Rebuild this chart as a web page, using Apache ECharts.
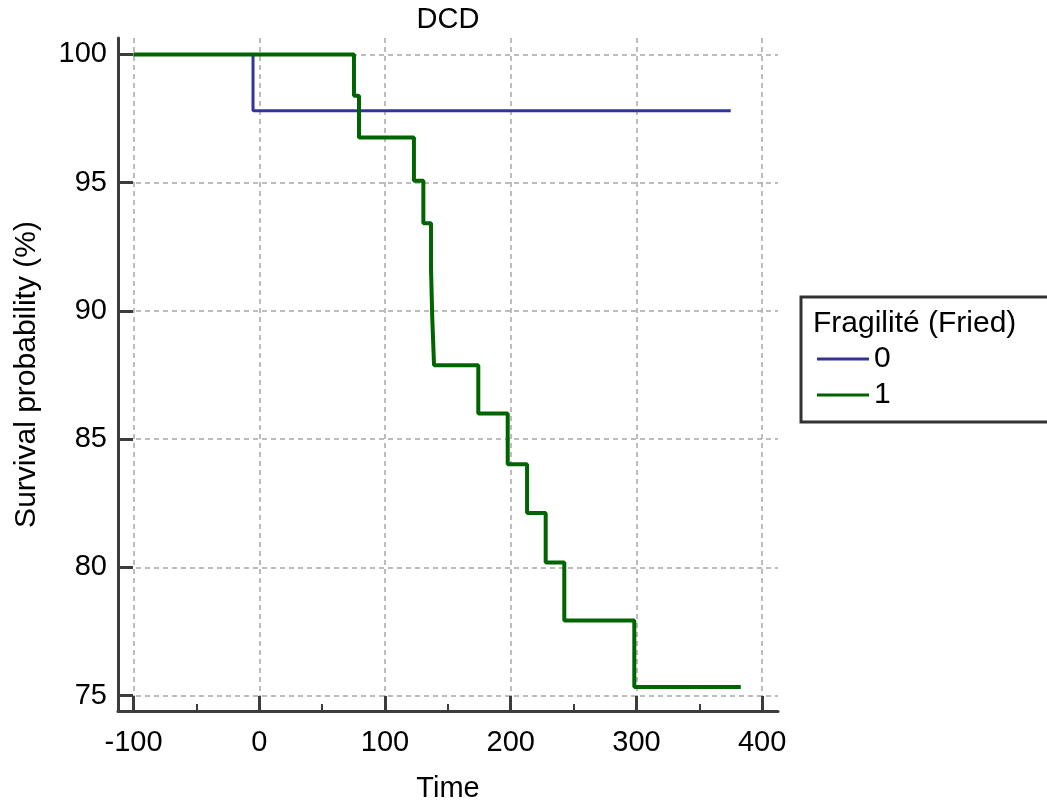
<!DOCTYPE html>
<html><head><meta charset="utf-8">
<script src="https://cdn.jsdelivr.net/npm/echarts@6/dist/echarts.min.js"></script>
<style>html,body{margin:0;padding:0;background:#fff}#c{width:1047px;height:800px}</style>
</head><body><div id="c"></div>
<script>
// ---- data ----
const chartTitle = 'DCD';
const legendTitle = 'Fragilité (Fried)';
const xName = 'Time';
const yName = 'Survival probability (%)';
const groupNames = ['0', '1'];
const groupColors = ['#333399', '#006400'];
const time0 = [-100, -5, 375];
const surv0 = [100, 97.8, 97.8];
const time1 = [-100, 75.3, 79.3, 123, 130.5, 136.6, 137.6, 139, 174.2, 197.6, 213, 227.8, 242.6, 298.3, 383];
const surv1 = [100, 98.39, 96.76, 95.07, 93.42, 91.63, 89.70, 87.88, 86.00, 84.02, 82.12, 80.19, 77.93, 75.34, 75.34];
const xTicks = [-100, 0, 100, 200, 300, 400];
const xMinorTicks = [-50, 50, 150, 250, 350];
const yTicks = [75, 80, 85, 90, 95, 100];

// ---- chart ----
const FONT = '"Liberation Sans", Arial, sans-serif';
const axisColor = '#3c3c3c';
const xMin = -112.4, xMax = 412.6, yMin = 74.4, yMax = 100.64;
const gridLine = { show: true, lineStyle: { color: '#a6a6a6', width: 1.5, type: [5, 4] } };
const zip = (a, b) => a.map((v, i) => [v, b[i]]);

const chart = echarts.init(document.getElementById('c'), null, { renderer: 'canvas' });
chart.setOption({
  animation: false,
  backgroundColor: '#fff',
  textStyle: { fontFamily: FONT },
  graphic: [
    { type: 'text', x: 448, y: 5, z: 10,
      style: { text: chartTitle, fontSize: 29, fontFamily: FONT, fill: '#000', align: 'center', verticalAlign: 'top' } },
    { type: 'text', x: 813, y: 309, z: 10,
      style: { text: legendTitle, fontSize: 30, fontFamily: FONT, fill: '#000', align: 'left', verticalAlign: 'top' } }
  ],
  grid: { left: 118, right: 269, top: 38, bottom: 89, containLabel: false, outerBoundsMode: 'none' },
  xAxis: [
    {
      type: 'value', min: xMin, max: xMax, position: 'bottom',
      axisLine: { show: true, onZero: false, lineStyle: { color: axisColor, width: 3 } },
      axisTick: { show: true, inside: true, length: 15, customValues: xTicks, lineStyle: { color: axisColor, width: 3 } },
      axisLabel: { customValues: xTicks, fontSize: 29, color: '#000', margin: 17, fontFamily: FONT },
      splitLine: gridLine,
      name: xName, nameLocation: 'middle', nameGap: 63,
      nameTextStyle: { fontSize: 29, color: '#000', fontFamily: FONT }
    },
    {
      type: 'value', min: xMin, max: xMax, position: 'bottom',
      axisLine: { show: false, onZero: false },
      axisTick: { show: true, inside: true, length: 7, customValues: xMinorTicks, lineStyle: { color: axisColor, width: 2 } },
      axisLabel: { show: false },
      splitLine: { show: false }
    }
  ],
  yAxis: {
    type: 'value', min: yMin, max: yMax,
    axisLine: { show: true, onZero: false, lineStyle: { color: axisColor, width: 3 } },
    axisTick: { show: true, inside: true, length: 15, customValues: yTicks, lineStyle: { color: axisColor, width: 3 } },
    axisLabel: { customValues: yTicks, fontSize: 29, color: '#000', margin: 11, fontFamily: FONT },
    splitLine: gridLine,
    name: yName, nameLocation: 'middle', nameGap: 76, nameRotate: 90,
    nameTextStyle: { fontSize: 30, color: '#000', fontFamily: FONT }
  },
  legend: {
    data: groupNames, orient: 'vertical', left: 801, top: 297, icon: 'rect',
    padding: [47, 180, 12, 16], itemGap: 6, itemWidth: 52, itemHeight: 3,
    textStyle: { fontSize: 30, color: '#000', fontFamily: FONT },
    borderColor: '#333', borderWidth: 3, backgroundColor: '#fff'
  },
  series: [
    { name: groupNames[0], type: 'line', step: 'end', symbol: 'none', clip: false,
      data: zip(time0, surv0), color: groupColors[0], lineStyle: { color: groupColors[0], width: 3 }, z: 3 },
    { name: groupNames[1], type: 'line', step: 'end', symbol: 'none', clip: false,
      data: zip(time1, surv1), color: groupColors[1], lineStyle: { color: groupColors[1], width: 4 }, z: 4 }
  ]
});
</script>
</body></html>
